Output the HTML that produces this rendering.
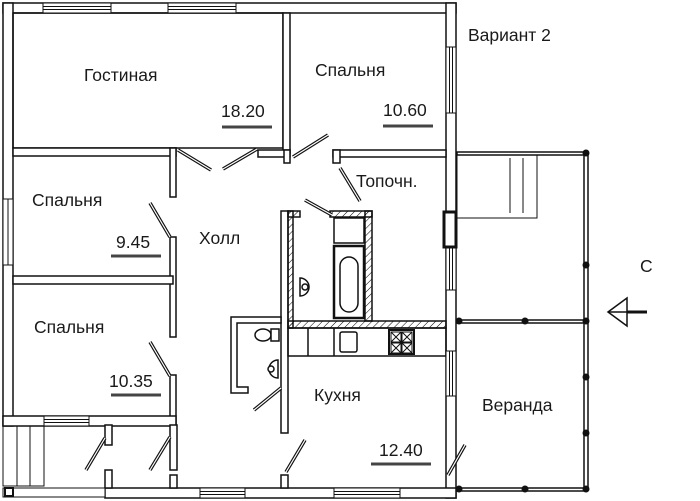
<!DOCTYPE html>
<html><head><meta charset="utf-8"><style>
html,body{margin:0;padding:0;background:#fff;}
svg{display:block}
text{font-family:"Liberation Sans",sans-serif;fill:#1a1a1a}
</style></head><body>
<svg width="700" height="501" viewBox="0 0 700 501" xmlns="http://www.w3.org/2000/svg">
<defs>
<pattern id="h" width="5" height="5" patternUnits="userSpaceOnUse" patternTransform="rotate(45)">
<line x1="0" y1="0" x2="0" y2="5" stroke="#000" stroke-width="1"/>
</pattern>
</defs>
<g fill="#fff" stroke="#111" stroke-width="1.5">
<rect x="3" y="3" width="453" height="10"/>
<rect x="3" y="3" width="10" height="423"/>
<rect x="446" y="3" width="10" height="495"/>
<rect x="105" y="488" width="351" height="10"/>
<rect x="13" y="13" width="270" height="135" fill="none"/>
<rect x="283" y="13" width="7" height="140"/>
<rect x="13" y="148" width="163" height="8"/>
<rect x="170" y="148" width="6" height="49"/>
<rect x="258" y="150" width="32" height="7"/>
<rect x="284" y="150" width="6" height="13"/>
<rect x="333" y="150" width="113" height="7"/>
<rect x="333" y="150" width="7" height="13"/>
<rect x="170" y="237" width="6" height="100"/>
<rect x="13" y="276" width="160" height="8"/>
<rect x="170" y="375" width="6" height="50"/>
<rect x="3" y="416" width="173" height="10"/>
<rect x="105" y="425" width="7" height="20"/>
<rect x="170" y="425" width="7" height="45"/>
<rect x="105" y="470" width="7" height="18"/>
<rect x="170" y="475" width="7" height="13"/>
<rect x="281" y="211" width="7" height="222"/>
<rect x="281" y="475" width="7" height="13"/>
<path d="M281 317 H231 V393 H248 V387 H237 V323 H281 Z"/>
<rect x="288" y="211" width="5" height="117" fill="url(#h)"/>
<rect x="288" y="211" width="12" height="6" fill="url(#h)"/>
<rect x="330" y="211" width="42" height="6" fill="url(#h)"/>
<rect x="365" y="211" width="7" height="110" fill="url(#h)"/>
<rect x="288" y="321" width="158" height="7" fill="url(#h)"/>
<rect x="288" y="328" width="158" height="28" fill="none"/>
<line x1="308" y1="328" x2="308" y2="356"/>
<line x1="334" y1="328" x2="334" y2="356"/>
<rect x="340" y="332" width="17" height="20" rx="2"/>
<rect x="389" y="330" width="25" height="24" stroke-width="2"/>
<g stroke-width="1" fill="none">
<rect x="391" y="332" width="10" height="10"/><rect x="402" y="332" width="10" height="10"/>
<rect x="391" y="343" width="10" height="10"/><rect x="402" y="343" width="10" height="10"/>
<path d="M391 332 L401 342 M401 332 L391 342 M402 332 L412 342 M412 332 L402 342 M391 343 L401 353 M401 343 L391 353 M402 343 L412 353 M412 343 L402 353"/>
</g>
<rect x="334" y="218" width="30" height="25"/>
<rect x="334" y="246" width="30" height="72" stroke-width="2.5"/>
<rect x="340" y="257" width="18" height="55" rx="9"/>
<g stroke-width="1">
<rect x="43" y="3" width="68" height="10"/><line x1="43" y1="6.5" x2="111" y2="6.5"/><line x1="43" y1="9.5" x2="111" y2="9.5"/>
<rect x="168" y="3" width="68" height="10"/><line x1="168" y1="6.5" x2="236" y2="6.5"/><line x1="168" y1="9.5" x2="236" y2="9.5"/>
<rect x="446" y="47" width="10" height="66"/><line x1="449.5" y1="47" x2="449.5" y2="113"/><line x1="452.5" y1="47" x2="452.5" y2="113"/>
<rect x="3" y="199" width="10" height="66"/><line x1="8" y1="199" x2="8" y2="265"/>
<rect x="44" y="416" width="45" height="10"/><line x1="44" y1="419.5" x2="89" y2="419.5"/><line x1="44" y1="422.5" x2="89" y2="422.5"/>
<rect x="200" y="488" width="45" height="10"/><line x1="200" y1="491.5" x2="245" y2="491.5"/><line x1="200" y1="494.5" x2="245" y2="494.5"/>
<rect x="334" y="488" width="66" height="10"/><line x1="334" y1="491.5" x2="400" y2="491.5"/><line x1="334" y1="494.5" x2="400" y2="494.5"/>
<rect x="446" y="247" width="10" height="43"/><line x1="449.5" y1="247" x2="449.5" y2="290"/><line x1="452.5" y1="247" x2="452.5" y2="290"/>
<rect x="446" y="351" width="10" height="45"/><line x1="449.5" y1="351" x2="449.5" y2="396"/><line x1="452.5" y1="351" x2="452.5" y2="396"/>
</g>
<rect x="444" y="212" width="12" height="35" stroke-width="3"/>
<rect x="3" y="426" width="41" height="60" fill="none" stroke-width="1"/>
<line x1="17" y1="426" x2="17" y2="486" stroke-width="1"/>
<line x1="30" y1="426" x2="30" y2="486" stroke-width="1"/>
<rect x="3" y="488" width="102" height="9" stroke-width="1"/>
<rect x="5" y="488" width="8" height="8" stroke-width="2"/>
<rect x="457" y="152" width="129" height="3"/>
<rect x="457" y="155" width="80" height="63" fill="none" stroke-width="1"/>
<line x1="510" y1="158" x2="510" y2="213" stroke-width="1"/>
<line x1="523" y1="158" x2="523" y2="213" stroke-width="1"/>
<rect x="584" y="152" width="4" height="337"/>
<rect x="457" y="320" width="129" height="3"/>
<rect x="457" y="488" width="129" height="3"/>
</g>
<g fill="#111">
<circle cx="586" cy="153" r="3.5"/><circle cx="586" cy="265" r="3.5"/><circle cx="586" cy="321" r="3.5"/>
<circle cx="586" cy="377" r="3.5"/><circle cx="586" cy="433" r="3.5"/><circle cx="586" cy="489" r="3.5"/>
<circle cx="459" cy="321" r="3.5"/><circle cx="525" cy="321" r="3.5"/>
<circle cx="459" cy="489" r="3.5"/><circle cx="525" cy="489" r="3.5"/>
</g>
<g stroke="#111" stroke-width="3.5" fill="none">
<line x1="178" y1="150" x2="211" y2="170"/>
<line x1="223" y1="169" x2="257" y2="149"/>
<line x1="293" y1="157" x2="328" y2="135"/>
<line x1="340" y1="168" x2="360" y2="201"/>
<line x1="305" y1="200" x2="332" y2="215"/>
<line x1="150" y1="203" x2="170" y2="237"/>
<line x1="150" y1="342" x2="170" y2="376"/>
<line x1="86" y1="470" x2="105" y2="438"/>
<line x1="150" y1="470" x2="170" y2="437"/>
<line x1="254" y1="410" x2="281" y2="388"/>
<line x1="286" y1="472" x2="305" y2="440"/>
<line x1="448" y1="475" x2="465" y2="445"/>
</g>
<g stroke="#fff" stroke-width="1.2" fill="none">
<line x1="178" y1="150" x2="211" y2="170"/>
<line x1="223" y1="169" x2="257" y2="149"/>
<line x1="293" y1="157" x2="328" y2="135"/>
<line x1="340" y1="168" x2="360" y2="201"/>
<line x1="305" y1="200" x2="332" y2="215"/>
<line x1="150" y1="203" x2="170" y2="237"/>
<line x1="150" y1="342" x2="170" y2="376"/>
<line x1="86" y1="470" x2="105" y2="438"/>
<line x1="150" y1="470" x2="170" y2="437"/>
<line x1="254" y1="410" x2="281" y2="388"/>
<line x1="286" y1="472" x2="305" y2="440"/>
<line x1="448" y1="475" x2="465" y2="445"/>
</g>
<g stroke="#111" stroke-width="1.5" fill="#fff">
<ellipse cx="263" cy="335" rx="8" ry="6"/><rect x="271" y="329" width="8" height="12"/>
<path d="M278 360 A9 9 0 1 0 278 378 Z"/><circle cx="271" cy="369" r="3"/>
<path d="M300 278 A9 9 0 1 1 300 296 Z"/><circle cx="305" cy="287" r="3"/>
</g>
<path d="M608 312 L627 298 L627 326 Z" fill="#fff" stroke="#111" stroke-width="1.5"/>
<line x1="608" y1="312" x2="627" y2="312" stroke="#111" stroke-width="1.5"/>
<line x1="627" y1="312" x2="647" y2="312" stroke="#111" stroke-width="3"/>
<g font-size="17.5">
<text x="84" y="81">Гостиная</text>
<text x="221" y="117">18.20</text>
<text x="315" y="76">Спальня</text>
<text x="383" y="116">10.60</text>
<text x="32" y="206">Спальня</text>
<text x="116" y="248">9.45</text>
<text x="199" y="244">Холл</text>
<text x="356" y="187">Топочн.</text>
<text x="34" y="333">Спальня</text>
<text x="109" y="387">10.35</text>
<text x="314" y="401">Кухня</text>
<text x="379" y="456">12.40</text>
<text x="482" y="411">Веранда</text>
<text x="468" y="41">Вариант 2</text>
<text x="640" y="272">C</text>
</g>
<g stroke="#444" stroke-width="3">
<line x1="222" y1="127" x2="272" y2="127"/>
<line x1="383" y1="126" x2="433" y2="126"/>
<line x1="111" y1="256" x2="161" y2="256"/>
<line x1="111" y1="395" x2="161" y2="395"/>
<line x1="371" y1="464" x2="431" y2="464"/>
</g>
</svg>
</body></html>
